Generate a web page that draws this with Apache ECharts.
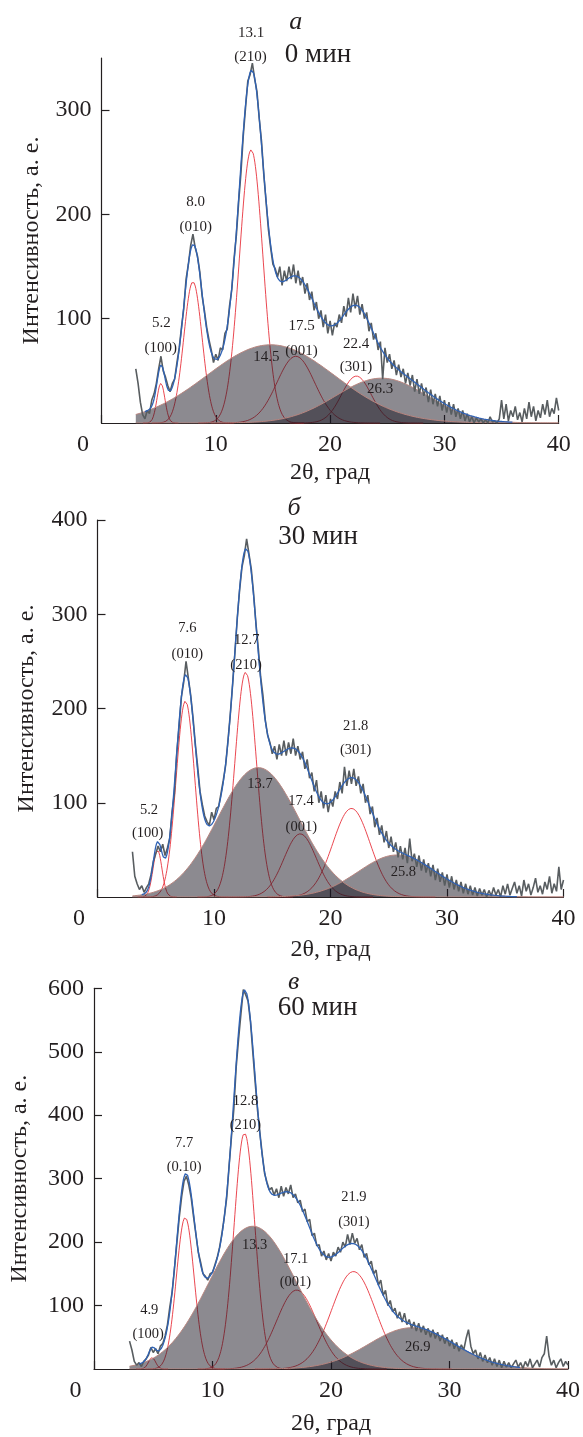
<!DOCTYPE html>
<html>
<head>
<meta charset="utf-8">
<script src="https://cdn.jsdelivr.net/npm/echarts@6/dist/echarts.min.js"></script>
<style>
html,body{margin:0;padding:0;background:#ffffff;}
#chart{width:583px;height:1437px;}
</style>
</head>
<body>
<div id="chart"></div>
<script>
// ---------------- DATA ----------------
const xTickLabels = [0, 10, 20, 30, 40];
const yTicksA = [100, 200, 300];
const yTicksB = [100, 200, 300, 400];
const yTicksC = [100, 200, 300, 400, 500, 600];

// raw diffractogram samples: 2θ from 3.0 to 40.0, step 0.2
const rawStart = 3.0, rawStep = 0.2;
const rawA = [52,38,20,8,4,12,9,22,28,38,
 52,64,50,44,36,30,38,42,58,72,
 92,110,138,152,170,181,168,160,145,122,
 108,92,80,70,58,66,60,72,70,86,
 90,112,128,158,180,212,240,275,302,328,
 334,345,330,318,292,270,238,212,186,168,
 152,148,140,150,132,146,136,150,138,152,
 134,146,132,140,124,134,118,126,108,116,
 100,108,92,104,86,98,84,96,92,104,
 96,112,102,120,106,124,110,122,104,114,
 100,106,88,96,80,86,70,78,42,72,
 58,66,52,60,46,56,44,52,38,48,
 36,46,30,42,28,38,26,34,20,32,
 18,28,16,26,12,22,10,20,8,18,
 6,14,4,12,2,9,1,6,0,5,
 1,4,0,3,0,6,1,2,0,4,
 22,4,18,2,12,6,16,3,10,1,
 14,4,20,6,16,2,12,5,18,8,
 22,6,14,9,24,12];
const rawB = [48,22,14,8,12,5,10,14,24,38,
 46,54,48,56,44,52,62,90,110,152,
 180,212,228,250,232,214,190,162,138,112,
 98,86,80,76,90,82,94,96,110,124,
 140,166,194,226,260,296,326,350,362,380,
 364,348,322,290,264,234,214,188,172,164,
 152,160,146,162,150,166,150,164,152,168,
 150,160,146,154,136,146,126,132,112,124,
 100,112,94,108,90,104,96,112,104,122,
 110,138,118,134,120,136,118,128,110,120,
 100,108,88,96,74,84,66,76,58,70,
 52,64,48,58,42,54,40,52,36,62,
 38,46,32,44,28,40,26,36,22,34,
 18,30,16,26,12,24,10,22,8,18,
 6,16,4,14,3,12,2,10,1,9,
 2,8,0,7,1,10,2,8,0,12,
 3,14,2,9,16,4,12,1,18,6,
 14,2,10,20,5,12,3,16,8,22,
 4,14,6,32,8,18];
const rawC = [44,30,12,6,10,4,12,16,22,34,
 26,32,24,36,40,52,70,98,122,160,
 200,240,272,296,304,290,270,240,212,184,
 168,150,146,140,150,152,164,176,192,214,
 240,270,320,366,410,476,520,560,598,590,
 580,548,500,452,408,372,338,308,294,282,
 286,274,284,270,288,272,286,276,290,270,
 276,262,266,248,252,232,236,210,214,194,
 196,178,186,172,182,170,184,178,192,184,
 200,192,212,196,214,198,206,188,196,176,
 182,164,170,150,156,132,140,116,124,100,
 108,90,96,80,90,74,88,70,78,64,
 74,60,72,58,68,54,64,50,62,48,
 58,44,54,40,50,36,46,32,42,28,
 38,30,48,62,36,24,30,16,26,12,
 22,10,18,6,16,4,14,2,12,3,
 10,2,8,14,3,10,1,12,4,16,
 2,8,14,3,18,24,52,20,6,14,
 2,10,16,4,12,6];

// crystalline peaks (red): centre, height, sigma
const peakCentreA = [5.2, 8.0, 13.1, 17.0, 22.3];
const peakHeightA = [38, 135.5, 262, 64, 45];
const peakSigmaA  = [0.35, 0.8, 1.03, 1.65, 1.3];
const peakCentreB = [5.15, 7.55, 12.72, 17.4, 21.8];
const peakHeightB = [50, 208, 238.5, 67, 94];
const peakSigmaB  = [0.38, 0.8, 0.92, 1.4, 1.6];
const peakCentreC = [4.9, 7.7, 12.7, 17.1, 21.9];
const peakHeightC = [18, 239, 372, 124.4, 153.6];
const peakSigmaC  = [0.3, 0.75, 0.88, 1.7, 1.85];

// amorphous halos (grey fills)
const haloCentreA = [14.8, 24.5];
const haloHeightA = [75, 43];
const haloSigmaA  = [5.6, 4.0];
const haloCentreB = [13.8, 25.7];
const haloHeightB = [137.3, 44.6];
const haloSigmaB  = [3.5, 3.3];
const haloCentreC = [13.4, 26.8];
const haloHeightC = [225, 65];
const haloSigmaC  = [3.7, 3.6];

// peak annotations [2θ, intensity, text]
const annA = [[13.08,373.6,'13.1'],[13.04,350.9,'(210)'],[8.24,212.2,'8.0'],[8.24,188.2,'(010)'],
  [5.23,95.6,'5.2'],[5.18,71.6,'(100)'],[14.42,63.6,'14.5'],[17.5,93,'17.5'],[17.5,69,'(001)'],
  [22.27,75.7,'22.4'],[22.27,53.4,'(301)'],[24.37,32.3,'26.3']];
const annB = [[7.71,285.2,'7.6'],[7.71,257.6,'(010)'],[12.81,272.8,'12.7'],[12.75,246.3,'(210)'],
  [4.42,92.4,'5.2'],[4.31,67.6,'(100)'],[13.95,119.6,'13.7'],[17.47,101.9,'17.4'],[17.49,74.6,'(001)'],
  [22.16,181.5,'21.8'],[22.16,155.3,'(301)'],[26.25,25.8,'25.8']];
const annC = [[4.66,92.2,'4.9'],[4.57,54.7,'(100)'],[7.61,355.2,'7.7'],[7.61,318.8,'(0.10)'],
  [12.78,421.9,'12.8'],[12.78,384.8,'(210)'],[13.56,194.7,'13.3'],[17.02,172.8,'17.1'],[16.99,136.4,'(001)'],
  [21.93,270.3,'21.9'],[21.93,231.7,'(301)'],[27.32,34.8,'26.9']];
const letterA = [[17.0,384.5,'а']], timeA = [[18.94,352.8,'0 мин']];
const letterB = [[16.87,413,'б']], timeB = [[18.93,382.5,'30 мин']];
const letterC = [[16.85,610.3,'в']], timeC = [[18.87,569.2,'60 мин']];

const xName = '2θ, град';
const yName = 'Интенсивность, а. е.';

// ---------------- LAYOUT / STYLE ----------------
const FONT = '"Liberation Serif", "Times New Roman", serif';
const INK = '#231f20';
const panels = [
  {grid:{left:101.5, top:58, width:457.2, height:365}, yMax:350, yTicks:yTicksA, raw:rawA,
   pc:peakCentreA, ph:peakHeightA, ps:peakSigmaA, hc:haloCentreA, hh:haloHeightA, hs:haloSigmaA,
   ann:annA, letter:letterA, time:timeA, gapX:38, gapY:58, annFont:15},
  {grid:{left:97.5, top:520, width:466, height:377}, yMax:400, yTicks:yTicksB, raw:rawB,
   pc:peakCentreB, ph:peakHeightB, ps:peakSigmaB, hc:haloCentreB, hh:haloHeightB, hs:haloSigmaB,
   ann:annB, letter:letterB, time:timeB, gapX:41, gapY:59, annFont:14.5},
  {grid:{left:94, top:988.3, width:474.8, height:384}, yMax:600, yTicks:yTicksC, raw:rawC,
   pc:peakCentreC, ph:peakHeightC, ps:peakSigmaC, hc:haloCentreC, hh:haloHeightC, hs:haloSigmaC,
   ann:annC, letter:letterC, time:timeC, gapX:43, gapY:62, annFont:14.5}
];

function gauss(c, h, s, x) { return h * Math.exp(-(x - c) * (x - c) / (2 * s * s)); }
function curve(c, h, s, x0, x1) {
  const pts = [];
  for (let i = 0; ; i++) {
    const x = x0 + i * 0.05;
    if (x > x1 + 1e-9) break;
    pts.push([+x.toFixed(3), gauss(c, h, s, x)]);
  }
  return pts;
}

const grids = [], xAxes = [], yAxes = [], series = [];
panels.forEach((p, k) => {
  grids.push(Object.assign({containLabel:false}, p.grid));
  xAxes.push({
    type:'value', gridIndex:k, min:0, max:40, interval:10,
    name:xName, nameLocation:'middle', nameGap:p.gapX,
    nameTextStyle:{fontFamily:FONT, fontSize:24, color:INK},
    axisLine:{show:true, lineStyle:{color:INK, width:1.2}},
    axisTick:{show:true, inside:true, length:8, lineStyle:{color:INK, width:1.2}},
    axisLabel:{show:true, margin:10, fontFamily:FONT, fontSize:24, color:INK,
      formatter: v => v === 0 ? '{z|0}' : String(v),
      rich:{z:{fontFamily:FONT, fontSize:24, color:INK, padding:[0,37,0,0]}}},
    splitLine:{show:false}
  });
  yAxes.push({
    type:'value', gridIndex:k, min:0, max:p.yMax, interval:100,
    name:yName, nameLocation:'middle', nameGap:p.gapY, nameRotate:90,
    nameTextStyle:{fontFamily:FONT, fontSize:24, color:INK},
    axisLine:{show:true, lineStyle:{color:INK, width:1.2}},
    axisTick:{show:true, inside:true, length:8, lineStyle:{color:INK, width:1.2}, customValues:p.yTicks},
    axisLabel:{show:true, margin:10, fontFamily:FONT, fontSize:24, color:INK, customValues:p.yTicks},
    splitLine:{show:false}
  });
  // red crystalline peaks
  p.pc.forEach((c, i) => {
    const s = p.ps[i];
    series.push({type:'line', xAxisIndex:k, yAxisIndex:k, showSymbol:false, silent:true,
      data:curve(c, p.ph[i], s, Math.max(rawStart, c - 4.5 * s), c + 4.5 * s),
      lineStyle:{color:'#e8323c', width:0.9}, z:2});
  });
  // grey amorphous halos (semi-transparent, drawn over the red lines)
  p.hc.forEach((c, i) => {
    series.push({type:'line', xAxisIndex:k, yAxisIndex:k, showSymbol:false, silent:true,
      data:curve(c, p.hh[i], p.hs[i], rawStart, 40),
      lineStyle:{color:'#b8857f', width:1},
      areaStyle:{color:'rgb(26,22,34)', opacity:0.5}, z:3});
  });
  // raw data
  series.push({type:'line', xAxisIndex:k, yAxisIndex:k, showSymbol:false, silent:true,
    data:p.raw.map((v, i) => [+(rawStart + i * rawStep).toFixed(2), v]),
    lineStyle:{color:'#585d60', width:1.6}, z:4});
  // fit = sum of components
  const fit = [];
  for (let i = 0; ; i++) {
    const x = 3.8 + i * 0.05;
    if (x > 36) break;
    let y = 0;
    p.pc.forEach((c, j) => { y += gauss(c, p.ph[j], p.ps[j], x); });
    p.hc.forEach((c, j) => { y += gauss(c, p.hh[j], p.hs[j], x); });
    fit.push([+x.toFixed(3), y]);
  }
  series.push({type:'line', xAxisIndex:k, yAxisIndex:k, showSymbol:false, silent:true,
    data:fit, lineStyle:{color:'#2f62b4', width:1.3}, z:5});
});

const chart = echarts.init(document.getElementById('chart'), null, {renderer:'canvas'});
chart.setOption({
  animation:false,
  backgroundColor:'#ffffff',
  grid:grids, xAxis:xAxes, yAxis:yAxes, series:series
});

// text annotations placed at data coordinates through the axes
const texts = [];
panels.forEach((p, k) => {
  const add = (arr, size, style) => arr.forEach(a => {
    const pt = chart.convertToPixel({gridIndex:k}, [a[0], a[1]]);
    texts.push({type:'text', x:pt[0], y:pt[1], z:100, silent:true,
      style:{text:a[2], fill:INK, align:'center', verticalAlign:'middle',
        font:(style || '') + ' ' + size + 'px ' + FONT}});
  });
  add(p.ann, p.annFont, 'normal');
  add(p.letter, 26, 'italic');
  add(p.time, 27, 'normal');
});
chart.setOption({graphic:{elements:texts}});
</script>
</body>
</html>
